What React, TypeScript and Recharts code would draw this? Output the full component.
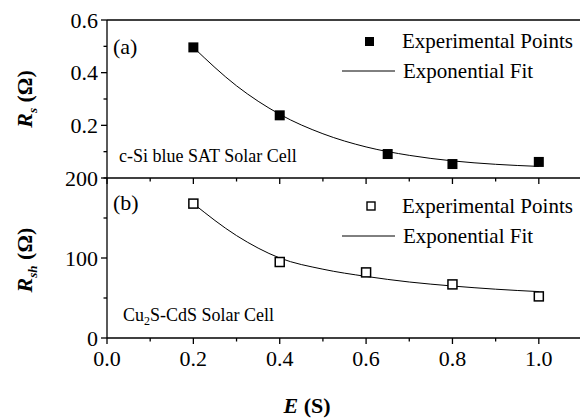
import React from 'react';
import { ComposedChart, Scatter, Line, XAxis, YAxis, ReferenceLine, Legend } from 'recharts';

// panel (a): c-Si blue SAT solar cell, Rs in ohm
const rsPoints = [
  { x: 0.2, y: 0.496 },
  { x: 0.4, y: 0.238 },
  { x: 0.65, y: 0.091 },
  { x: 0.8, y: 0.053 },
  { x: 1.0, y: 0.061 },
];
const rsFit = [
  { x: 0.2, fit: 0.496 },
  { x: 0.3, fit: 0.35 },
  { x: 0.4, fit: 0.242 },
  { x: 0.5, fit: 0.168 },
  { x: 0.6, fit: 0.118 },
  { x: 0.7, fit: 0.086 },
  { x: 0.8, fit: 0.065 },
  { x: 0.9, fit: 0.052 },
  { x: 1.0, fit: 0.044 },
];

// panel (b): Cu2S-CdS solar cell, Rsh in ohm
const rshPoints = [
  { x: 0.2, y: 168 },
  { x: 0.4, y: 95 },
  { x: 0.6, y: 82 },
  { x: 0.8, y: 67 },
  { x: 1.0, y: 52 },
];
const rshFit = [
  { x: 0.2, fit: 168 },
  { x: 0.3, fit: 128 },
  { x: 0.4, fit: 100 },
  { x: 0.5, fit: 86 },
  { x: 0.6, fit: 77 },
  { x: 0.7, fit: 70 },
  { x: 0.8, fit: 65 },
  { x: 0.9, fit: 61 },
  { x: 1.0, fit: 58 },
];

const xTicks = [0, 0.1, 0.2, 0.3, 0.4, 0.5, 0.6, 0.7, 0.8, 0.9, 1.0];
const xLabels = ['0.0', '0.2', '0.4', '0.6', '0.8', '1.0'];
const rsTicks = [0, 0.1, 0.2, 0.3, 0.4, 0.5, 0.6];
const rsLabels = ['0.2', '0.4', '0.6'];
const rshTicks = [0, 50, 100, 150, 200];
const rshLabels = ['0', '100', '200'];

const FONT = 'Liberation Serif';
const W = 580;
const H = 419;

const txt: React.CSSProperties = { fontFamily: FONT };

const XTick = ({ x, y, payload, showLabels }: any) => {
  const label = Number(payload.value).toFixed(1);
  const major = xLabels.includes(label);
  return (
    <g>
      <line x1={x} x2={x} y1={y} y2={y + (major ? 6 : 3.5)} stroke="#000" strokeWidth={1.3} />
      {showLabels && major && (
        <text x={x} y={y + 28} textAnchor="middle" fontSize={22} style={txt} fill="#000">
          {label}
        </text>
      )}
    </g>
  );
};

const YTick = ({ x, y, payload, labels, fmt }: any) => {
  const label = fmt(payload.value);
  const major = labels.includes(label);
  return (
    <g>
      <line x1={x} x2={x - (major ? 6 : 3.5)} y1={y} y2={y} stroke="#000" strokeWidth={1.3} />
      {major && (
        <text x={x - 9} y={y + 7.5} textAnchor="end" fontSize={22} style={txt} fill="#000">
          {label}
        </text>
      )}
    </g>
  );
};

const FilledSquare = ({ cx, cy }: any) => (
  <rect x={cx - 5} y={cy - 5} width={10} height={10} fill="#000" />
);
const OpenSquare = ({ cx, cy }: any) => (
  <rect x={cx - 4.5} y={cy - 4.5} width={9} height={9} fill="#fff" stroke="#000" strokeWidth={1.5} />
);

const LegendBox = ({ filled }: { filled: boolean }) => (
  <svg width={245} height={62} style={{ display: 'block' }}>
    {filled ? (
      <rect x={30} y={12} width={9} height={9} fill="#000" />
    ) : (
      <rect x={32} y={12} width={8} height={8} fill="#fff" stroke="#000" strokeWidth={1.4} />
    )}
    <text x={67} y={23} fontSize={21} style={txt} fill="#000">Experimental Points</text>
    <line x1={7} x2={60} y1={46} y2={46} stroke="#000" strokeWidth={1} />
    <text x={68} y={53} fontSize={21} style={txt} fill="#000">Exponential Fit</text>
  </svg>
);

const abs: React.CSSProperties = { position: 'absolute', left: 0, top: 0 };

export default function App() {
  return (
    <div style={{ position: 'absolute', left: 0, top: 0, width: W, height: H, overflow: 'hidden', background: '#fff', fontFamily: FONT }}>
      {/* panel (a) */}
      <div style={abs}>
        <ComposedChart width={582} height={H} margin={{ top: 20, right: 0, bottom: H - 179, left: 0 }}>
          <XAxis
            type="number"
            dataKey="x"
            domain={[0, 1.1]}
            ticks={xTicks}
            height={1}
            tickSize={0}
            tickMargin={0}
            tickLine={false}
            stroke="#000"
            strokeWidth={1.3}
            tick={(p: any) => <XTick {...p} showLabels={false} />}
            interval={0}
            allowDataOverflow
          />
          <YAxis
            type="number"
            domain={[0, 0.6]}
            ticks={rsTicks}
            width={107}
            tickSize={0}
            tickMargin={0}
            tickLine={false}
            stroke="#000"
            strokeWidth={1.3}
            interval={0}
            tick={(p: any) => <YTick {...p} labels={rsLabels} fmt={(v: number) => v.toFixed(1)} />}
          />
          <ReferenceLine y={0.6} stroke="#000" strokeWidth={1.3} ifOverflow="visible" />
          <Line data={rsFit} dataKey="fit" type="monotone" stroke="#000" strokeWidth={1} dot={false} isAnimationActive={false} />
          <Scatter data={rsPoints} dataKey="y" shape={FilledSquare} isAnimationActive={false} />
          <Legend
            verticalAlign="middle"
            layout="horizontal"
            wrapperStyle={{ position: 'absolute', left: 335, top: 25, width: 245 }}
            content={() => <LegendBox filled />}
          />
        </ComposedChart>
      </div>

      {/* panel (b) */}
      <div style={abs}>
        <ComposedChart width={582} height={H} margin={{ top: 178, right: 0, bottom: H - 339, left: 0 }}>
          <XAxis
            type="number"
            dataKey="x"
            domain={[0, 1.1]}
            ticks={xTicks}
            height={1}
            tickSize={0}
            tickMargin={0}
            tickLine={false}
            stroke="#000"
            strokeWidth={1.3}
            interval={0}
            tick={(p: any) => <XTick {...p} showLabels />}
            allowDataOverflow
          />
          <YAxis
            type="number"
            domain={[0, 200]}
            ticks={rshTicks}
            width={107}
            tickSize={0}
            tickMargin={0}
            tickLine={false}
            stroke="#000"
            strokeWidth={1.3}
            interval={0}
            tick={(p: any) => <YTick {...p} labels={rshLabels} fmt={(v: number) => String(v)} />}
          />
          <Line data={rshFit} dataKey="fit" type="monotone" stroke="#000" strokeWidth={1} dot={false} isAnimationActive={false} />
          <Scatter data={rshPoints} dataKey="y" shape={OpenSquare} isAnimationActive={false} />
          <Legend
            verticalAlign="middle"
            layout="horizontal"
            wrapperStyle={{ position: 'absolute', left: 335, top: 190, width: 245 }}
            content={() => <LegendBox filled={false} />}
          />
        </ComposedChart>
      </div>

      {/* titles and panel notes */}
      <svg width={W} height={H} style={{ ...abs, pointerEvents: 'none' }}>
        <text x={113} y={54} fontSize={22} style={txt} fill="#000">(a)</text>
        <text x={113} y={210} fontSize={22} style={txt} fill="#000">(b)</text>
        <text x={119} y={162} fontSize={18} style={txt} fill="#000">c-Si blue SAT Solar Cell</text>
        <text x={123} y={321} fontSize={18} style={txt} fill="#000">
          Cu<tspan fontSize={12} dy={4}>2</tspan><tspan dy={-4}>S-CdS Solar Cell</tspan>
        </text>
        <text transform="translate(32,99) rotate(-90)" textAnchor="middle" fontSize={22} style={txt} fontWeight="bold" fill="#000">
          <tspan fontStyle="italic">R</tspan>
          <tspan fontSize={13} fontStyle="italic" dy={5}>s</tspan>
          <tspan dy={-5}> (Ω)</tspan>
        </text>
        <text transform="translate(32,260) rotate(-90)" textAnchor="middle" fontSize={22} style={txt} fontWeight="bold" fill="#000">
          <tspan fontStyle="italic">R</tspan>
          <tspan fontSize={13} fontStyle="italic" dy={5}>sh</tspan>
          <tspan dy={-5}> (Ω)</tspan>
        </text>
        <text x={307} y={413} textAnchor="middle" fontSize={22} style={txt} fontWeight="bold" fill="#000">
          <tspan fontStyle="italic">E</tspan> (S)
        </text>
      </svg>
    </div>
  );
}
